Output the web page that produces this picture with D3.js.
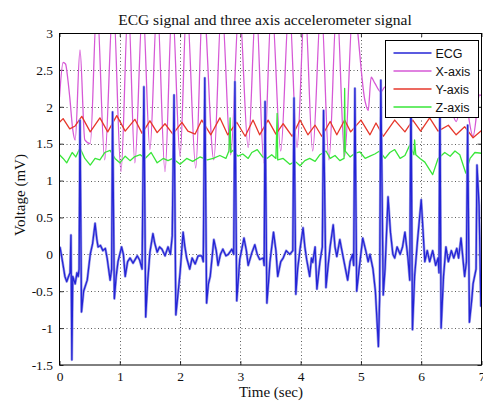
<!DOCTYPE html>
<html>
<head>
<meta charset="utf-8">
<script src="https://cdn.jsdelivr.net/npm/d3@7"></script>
<style>
  body { margin: 0; background: #fff; }
  svg { display: block; }
  .tick text { font-family: "Liberation Serif", "Times New Roman", serif; font-size: 13.5px; fill: #111; }
  .tick line { stroke: #000; stroke-width: 0.8; }
  .grid line { stroke: #333; stroke-width: 0.8; stroke-dasharray: 1,2.5; }
</style>
</head>
<body>
<div id="chart"></div>
<script>
// ---- data ----
var xTicks = [0, 1, 2, 3, 4, 5, 6, 7];
var yTicks = [-1.5, -1, -0.5, 0, 0.5, 1, 1.5, 2, 2.5, 3];
var seriesNames = ["ECG", "X-axis", "Y-axis", "Z-axis"];

// ECG (mV) vertices
var ecgT = [0, 0.01, 0.04, 0.06, 0.09, 0.12, 0.15, 0.175, 0.19, 0.205, 0.22, 0.26, 0.29, 0.31, 0.325,
  0.34, 0.365, 0.40, 0.46, 0.51, 0.55, 0.59, 0.62, 0.64, 0.68, 0.72, 0.76, 0.79, 0.84, 0.865,
  0.88, 0.91, 0.94, 0.97, 1.03, 1.06, 1.09, 1.13, 1.17, 1.22, 1.29, 1.33, 1.37,
  1.40, 1.43, 1.46, 1.50, 1.55, 1.58, 1.62, 1.66, 1.70, 1.75, 1.80, 1.84, 1.87,
  1.90, 1.93, 1.97, 2.00, 2.05, 2.08, 2.11, 2.16, 2.20, 2.25, 2.30, 2.36, 2.385,
  2.41, 2.44, 2.47, 2.50, 2.56, 2.60, 2.63, 2.67, 2.71, 2.76, 2.80, 2.86, 2.89,
  2.91, 2.94, 2.97, 2.99, 3.06, 3.10, 3.13, 3.19, 3.24, 3.28, 3.32, 3.38, 3.395,
  3.41, 3.44, 3.47, 3.49, 3.55, 3.59, 3.62, 3.67, 3.71, 3.76, 3.82, 3.87,
  3.89, 3.92, 3.95, 3.99, 4.04, 4.07, 4.10, 4.15, 4.18, 4.20, 4.24, 4.27, 4.32, 4.36,
  4.38, 4.42, 4.45, 4.49, 4.54, 4.57, 4.60, 4.65, 4.68, 4.72, 4.78, 4.82, 4.86, 4.88,
  4.90, 4.93, 4.97, 5.03, 5.08, 5.12, 5.15, 5.20, 5.24, 5.29, 5.31,
  5.33, 5.37, 5.40, 5.45, 5.49, 5.53, 5.56, 5.60, 5.65, 5.69, 5.73, 5.78, 5.81,
  5.83, 5.855, 5.89, 5.94, 6.00, 6.06, 6.10, 6.14, 6.19, 6.24, 6.28, 6.295,
  6.31, 6.33, 6.37, 6.41, 6.45, 6.50, 6.54, 6.59, 6.62, 6.66, 6.72, 6.75,
  6.77, 6.80, 6.84, 6.86, 6.91, 6.925, 6.96, 6.99, 7.00];
var ecgV = [0.10, 0.09, -0.05, -0.15, -0.30, -0.37, -0.30, -0.25, 0.26, -1.43, -0.30, -0.40, -0.25, -0.30, -0.20,
  1.82, -0.78, -0.50, -0.35, 0.00, 0.15, 0.42, 0.20, 0.10, 0.12, 0.05, 0.08, -0.05, -0.35, -0.20,
  1.93, -0.60, -0.30, -0.10, 0.10, 0.00, -0.30, -0.10, -0.05, -0.12, -0.02, -0.08, -0.20,
  2.27, -0.85, -0.40, 0.03, 0.28, 0.15, 0.03, 0.10, 0.07, -0.02, 0.10, 0.00, 0.25,
  2.16, -0.82, -0.50, -0.25, 0.30, 0.10, -0.05, -0.20, -0.05, -0.13, -0.02, -0.02, -0.10,
  2.39, -0.66, -0.40, -0.30, 0.20, 0.05, -0.15, 0.00, 0.07, -0.02, 0.00, 0.07, 0.00,
  2.34, -0.63, -0.30, -0.07, 0.22, 0.05, -0.15, 0.02, 0.13, 0.00, -0.07, -0.05, -0.15,
  2.07, -0.66, -0.35, -0.11, 0.30, 0.05, -0.30, -0.10, -0.05, 0.05, 0.00, 0.05,
  2.12, -0.54, -0.20, 0.07, 0.36, 0.10, -0.07, -0.30, -0.05, -0.11, 0.10, -0.47, -0.10, 0.10,
  1.95, -0.45, -0.20, 0.11, 0.40, 0.10, -0.03, 0.20, 0.07, -0.10, -0.35, -0.10, 0.00, -0.15,
  2.25, -0.50, -0.20, 0.22, 0.05, -0.10, 0.00, -0.20, -0.50, -1.25, -0.60,
  2.36, -0.55, -0.20, 0.78, 0.30, 0.00, -0.05, 0.10, 0.00, 0.10, 0.30, -0.05, -0.35,
  2.30, -1.02, -0.30, 0.20, 0.74, -0.10, 0.05, -0.10, 0.05, -0.15, -0.05, -0.25,
  2.20, -1.00, -0.30, 0.10, -0.10, 0.05, -0.05, 0.08, -0.05, 0.22, -0.30, -0.10,
  1.75, -0.92, -0.60, -0.40, -0.20, 1.21, 0.66, -0.70, -0.60];

// accelerometer X-axis
var accXT = [0, 0.06, 0.10, 0.14, 0.17, 0.22, 0.26, 0.34, 0.42, 0.51, 0.62, 0.75, 0.89, 1.02, 1.14, 1.25,
  1.38, 1.50, 1.62, 1.75, 1.87, 2.00, 2.11, 2.26, 2.38, 2.56, 2.69, 2.84, 2.98, 3.13, 3.26, 3.39,
  3.52, 3.67, 3.81, 3.94, 4.07, 4.20, 4.34, 4.47, 4.60, 4.73, 4.87, 5.07, 5.12, 5.17, 5.23, 5.33,
  5.40, 5.55, 5.75, 5.95, 6.20, 6.45, 6.58, 6.70, 6.86, 6.97, 7.00];
var accXV = [2.13, 2.60, 2.58, 2.36, 2.13, 1.69, 1.55, 2.77, 1.55, 1.50, 3.40, 1.28, 3.45, 1.12, 3.40, 1.24,
  3.40, 1.42, 3.40, 1.12, 3.40, 1.33, 3.40, 1.17, 3.50, 1.28, 3.40, 1.35, 3.40, 1.45, 3.40, 1.24,
  3.40, 1.40, 3.40, 1.45, 3.40, 1.40, 3.40, 1.28, 3.40, 1.33, 3.40, 2.07, 1.95, 2.40, 2.32, 2.20,
  2.27, 2.20, 2.30, 2.15, 2.25, 2.10, 1.80, 2.20, 1.60, 2.16, 2.15];

// accelerometer Y-axis
var accYT = [0, 0.06, 0.17, 0.26, 0.37, 0.51, 0.67, 0.80, 0.95, 1.09, 1.25, 1.37, 1.50, 1.62, 1.75, 1.88,
  2.03, 2.13, 2.25, 2.36, 2.51, 2.66, 2.79, 2.94, 3.08, 3.21, 3.32, 3.46, 3.59, 3.71, 3.86, 3.99,
  4.12, 4.24, 4.35, 4.49, 4.60, 4.73, 4.83, 5.00, 5.15, 5.25, 5.37, 5.56, 5.73, 5.86, 5.99, 6.14,
  6.28, 6.45, 6.58, 6.72, 6.86, 7.00];
var accYV = [1.79, 1.84, 1.70, 1.74, 1.87, 1.66, 1.85, 1.66, 1.88, 1.67, 1.83, 1.64, 1.81, 1.65, 1.77, 1.63,
  1.79, 1.67, 1.63, 1.82, 1.62, 1.85, 1.62, 1.79, 1.60, 1.82, 1.62, 1.82, 1.63, 1.77, 1.60, 1.82,
  1.62, 1.75, 1.60, 1.80, 1.62, 1.82, 1.66, 1.82, 1.62, 1.78, 1.60, 1.82, 1.66, 1.82, 1.67, 1.85,
  1.67, 1.75, 1.62, 1.73, 1.58, 1.68];

// accelerometer Z-axis
var accZT = [0, 0.06, 0.12, 0.21, 0.27, 0.34, 0.42, 0.51, 0.59, 0.67, 0.75, 0.84, 0.92, 1.00, 1.09, 1.17,
  1.24, 1.34, 1.42, 1.52, 1.62, 1.72, 1.80, 1.88, 2.00, 2.11, 2.21, 2.33, 2.45, 2.55, 2.66, 2.76,
  2.81, 2.83, 2.84, 2.88, 2.96, 3.04, 3.13, 3.19, 3.28, 3.37, 3.44, 3.52, 3.59, 3.61, 3.62, 3.71,
  3.82, 3.91, 3.99, 4.07, 4.15, 4.24, 4.32, 4.42, 4.49, 4.57, 4.65, 4.72, 4.73, 4.74, 4.82, 4.90,
  4.98, 5.07, 5.15, 5.23, 5.31, 5.40, 5.48, 5.56, 5.65, 5.73, 5.81, 5.88, 5.89, 5.91, 5.98, 6.06,
  6.19, 6.28, 6.39, 6.48, 6.56, 6.64, 6.74, 6.81, 6.89, 7.00];
var accZV = [1.35, 1.30, 1.24, 1.38, 1.32, 1.44, 1.30, 1.21, 1.30, 1.28, 1.38, 1.41, 1.30, 1.24, 1.33, 1.27,
  1.32, 1.35, 1.30, 1.38, 1.24, 1.30, 1.27, 1.30, 1.22, 1.30, 1.26, 1.32, 1.28, 1.30, 1.34, 1.30,
  1.40, 1.85, 1.38, 1.41, 1.33, 1.36, 1.30, 1.38, 1.42, 1.32, 1.30, 1.35, 1.30, 1.91, 1.28, 1.30,
  1.22, 1.26, 1.20, 1.27, 1.30, 1.26, 1.35, 1.40, 1.30, 1.34, 1.27, 1.30, 2.25, 1.40, 1.32, 1.37,
  1.39, 1.30, 1.33, 1.36, 1.40, 1.30, 1.38, 1.42, 1.30, 1.34, 1.48, 1.35, 1.55, 1.35, 1.30, 1.25,
  1.08, 1.30, 1.38, 1.33, 1.40, 1.35, 1.10, 1.30, 1.38, 1.37];

var colors = ["#2424d6", "#d659d6", "#e6372b", "#39e639"];

// ---- layout ----
var width = 483, height = 406;
var margin = { top: 33, right: 1.5, bottom: 41, left: 59.5 };

var x = d3.scaleLinear().domain([0, 7]).range([margin.left, width - margin.right]);
var y = d3.scaleLinear().domain([-1.5, 3]).range([height - margin.bottom, margin.top]);

var svg = d3.select("#chart").append("svg")
    .attr("width", width)
    .attr("height", height);

svg.append("defs").append("clipPath")
    .attr("id", "plotclip")
  .append("rect")
    .attr("x", x(0)).attr("y", y(3))
    .attr("width", x(7) - x(0)).attr("height", y(-1.5) - y(3));

// dotted grid
var grid = svg.append("g").attr("class", "grid");
grid.selectAll(".gx")
    .data(xTicks.slice(1, -1))
  .enter().append("line")
    .attr("x1", function(d) { return Math.round(x(d)) + 0.5; })
    .attr("x2", function(d) { return Math.round(x(d)) + 0.5; })
    .attr("y1", y(3)).attr("y2", y(-1.5));
grid.selectAll(".gy")
    .data(yTicks.slice(1, -1))
  .enter().append("line")
    .attr("y1", function(d) { return Math.round(y(d)) + 0.5; })
    .attr("y2", function(d) { return Math.round(y(d)) + 0.5; })
    .attr("x1", x(0)).attr("x2", x(7));

// axes, ticks pointing inwards like matlab
var fmt = function(d) { return String(d); };
svg.append("g")
    .attr("transform", "translate(0," + y(-1.5) + ")")
    .call(d3.axisBottom(x).tickValues(xTicks).tickFormat(fmt).tickSizeInner(-4).tickSizeOuter(0).tickPadding(6.5));
svg.append("g")
    .attr("transform", "translate(" + x(0) + ",0)")
    .call(d3.axisLeft(y).tickValues(yTicks).tickFormat(fmt).tickSizeInner(-4).tickSizeOuter(0).tickPadding(6.5));
svg.append("g")
    .attr("transform", "translate(0," + y(3) + ")")
    .call(d3.axisTop(x).tickValues(xTicks).tickFormat("").tickSizeInner(-4).tickSizeOuter(0));
svg.append("g")
    .attr("transform", "translate(" + x(7) + ",0)")
    .call(d3.axisRight(y).tickValues(yTicks).tickFormat("").tickSizeInner(-4).tickSizeOuter(0));
svg.selectAll(".domain").remove();

// signals
var plot = svg.append("g").attr("clip-path", "url(#plotclip)");

function pairs(ts, vs) {
  return ts.map(function(t, i) { return [t, vs[i]]; });
}
var lineLin = d3.line()
    .x(function(d) { return x(d[0]); })
    .y(function(d) { return y(d[1]); });
var lineSmooth = d3.line()
    .curve(d3.curveMonotoneX)
    .x(function(d) { return x(d[0]); })
    .y(function(d) { return y(d[1]); });

plot.append("path")
    .datum(pairs(accXT, accXV))
    .attr("d", lineSmooth)
    .attr("fill", "none")
    .attr("stroke", colors[1])
    .attr("stroke-width", 1.3);

plot.append("path")
    .datum(pairs(accYT, accYV))
    .attr("d", lineLin)
    .attr("fill", "none")
    .attr("stroke", colors[2])
    .attr("stroke-width", 1.3)
    .attr("stroke-linejoin", "round");

plot.append("path")
    .datum(pairs(accZT, accZV))
    .attr("d", lineLin)
    .attr("fill", "none")
    .attr("stroke", colors[3])
    .attr("stroke-width", 1.3)
    .attr("stroke-linejoin", "round");

// ECG on top, with a soft halo like the scanned figure
plot.append("path")
    .datum(pairs(ecgT, ecgV))
    .attr("d", lineLin)
    .attr("fill", "none")
    .attr("stroke", "#a0a0e8")
    .attr("stroke-width", 2.6)
    .attr("stroke-linejoin", "round");
plot.append("path")
    .datum(pairs(ecgT, ecgV))
    .attr("d", lineLin)
    .attr("fill", "none")
    .attr("stroke", colors[0])
    .attr("stroke-width", 1.3)
    .attr("stroke-linejoin", "round");

// frame
svg.append("rect")
    .attr("x", x(0)).attr("y", y(3) + 0.5)
    .attr("width", x(7) - x(0)).attr("height", y(-1.5) - y(3) - 0.5)
    .attr("fill", "none")
    .attr("stroke", "#000")
    .attr("stroke-width", 1);

// legend
var lg = svg.append("g").attr("transform", "translate(385.5,40.5)");
lg.append("rect")
    .attr("width", 93).attr("height", 77)
    .attr("fill", "#fff")
    .attr("stroke", "#000")
    .attr("stroke-width", 1);
var item = lg.selectAll(".item")
    .data(seriesNames)
  .enter().append("g")
    .attr("transform", function(d, i) { return "translate(0," + (12.5 + i * 18) + ")"; });
item.append("line")
    .attr("x1", 8).attr("x2", 46)
    .attr("stroke", function(d, i) { return colors[i]; })
    .attr("stroke-width", 1.4);
item.append("text")
    .attr("x", 50)
    .attr("dy", "0.36em")
    .style("font-family", "'Liberation Sans', Arial, sans-serif")
    .style("font-size", "12.5px")
    .style("fill", "#111")
    .text(function(d) { return d; });

// labels
svg.append("text")
    .attr("x", 265).attr("y", 25)
    .attr("text-anchor", "middle")
    .style("font-family", "'Liberation Serif', 'Times New Roman', serif")
    .style("font-size", "15.5px")
    .style("fill", "#111")
    .text("ECG signal and three axis accelerometer signal");

svg.append("text")
    .attr("x", 271).attr("y", 397)
    .attr("text-anchor", "middle")
    .style("font-family", "'Liberation Serif', 'Times New Roman', serif")
    .style("font-size", "15px")
    .style("fill", "#111")
    .text("Time (sec)");

svg.append("text")
    .attr("transform", "translate(25,195) rotate(-90)")
    .attr("text-anchor", "middle")
    .style("font-family", "'Liberation Serif', 'Times New Roman', serif")
    .style("font-size", "15px")
    .style("fill", "#111")
    .text("Voltage (mV)");
</script>
</body>
</html>
